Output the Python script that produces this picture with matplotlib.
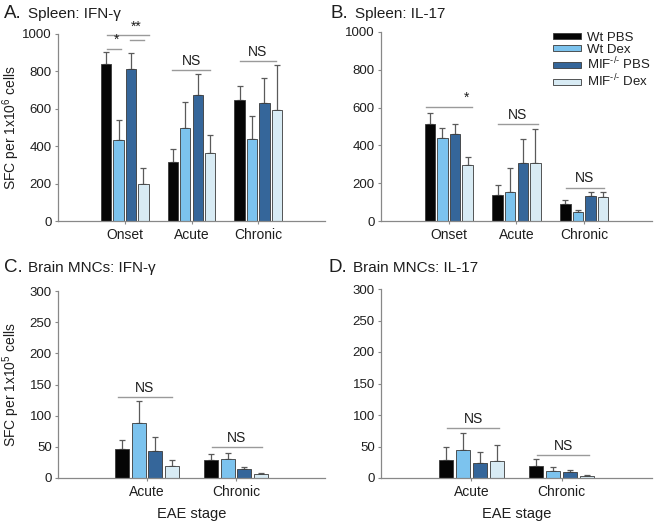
import numpy as np
import matplotlib
matplotlib.use('Agg')
import matplotlib.pyplot as plt

plt.rcParams['font.family'] = ['Liberation Sans', 'DejaVu Sans']
plt.rcParams['mathtext.fontset'] = 'custom'
plt.rcParams['mathtext.rm'] = 'Liberation Sans'
plt.rcParams['mathtext.it'] = 'Liberation Sans:italic'

# groups and stages
groups = ['Wt PBS', 'Wt Dex', r'MIF$^{\text{-/-}}$ PBS', r'MIF$^{\text{-/-}}$ Dex']
colors = ['#050505', '#7cc3ee', '#35669a', '#d8ebf4']
spleen_stages = ['Onset', 'Acute', 'Chronic']
brain_stages = ['Acute', 'Chronic']

# spleen IFN-g (rows = groups, cols = stages)
spleen_ifn = [[838, 316, 645], [431, 500, 438], [811, 672, 630], [200, 366, 594]]
spleen_ifn_err = [[64, 68, 78], [108, 137, 124], [86, 112, 133], [81, 93, 240]]

# spleen IL-17
spleen_il17 = [[512, 140, 89], [439, 154, 46], [460, 305, 133], [296, 305, 129]]
spleen_il17_err = [[58, 49, 21], [55, 127, 11], [52, 127, 18], [44, 180, 25]]

# brain MNCs IFN-g
brain_ifn = [[47, 29], [89, 30], [43, 15], [19, 6]]
brain_ifn_err = [[13.5, 9], [35, 10], [22.5, 3], [9.5, 2]]

# brain MNCs IL-17
brain_il17 = [[28, 19.6], [45, 11.7], [24, 9], [27.5, 3.8]]
brain_il17_err = [[22, 10], [27, 6.3], [17, 4], [24.5, 1.6]]

offsets = [-0.28, -0.093, 0.093, 0.28]
width = 0.155
line_gray = '#9a9a9a'
text_col = '#1e1e1e'


def draw_bars(ax, stages, means, errs, ymax, ystep):
    x = np.arange(len(stages))
    for i in range(len(groups)):
        m = np.array(means[i], dtype=float)
        e = np.array(errs[i], dtype=float)
        ax.bar(x + offsets[i], m, width, color=colors[i], edgecolor='#3a3a3a',
               linewidth=0.6, label=groups[i], zorder=2)
        ax.errorbar(x + offsets[i], m, yerr=[np.zeros_like(e), e], fmt='none',
                    ecolor='#5a5a5a', elinewidth=0.9, capsize=2, capthick=0.9, zorder=1)
    ax.set_xlim(-1, len(stages))
    ax.set_ylim(0, ymax)
    ax.set_yticks(np.arange(0, ymax + 1, ystep))
    ax.set_xticks(x)
    ax.set_xticklabels(stages, fontsize=10)
    ax.tick_params(axis='y', labelsize=9.5, length=2.5, width=0.8, color='#888888',
                   pad=2, labelcolor=text_col)
    ax.tick_params(axis='x', length=2.5, width=0.8, color='#888888', pad=2.5,
                   labelcolor=text_col)
    for s in ['top', 'right']:
        ax.spines[s].set_visible(False)
    for s in ['left', 'bottom']:
        ax.spines[s].set_color('#888888')
        ax.spines[s].set_linewidth(0.9)


def sig(ax, x0, x1, y, text, tx=None):
    ax.plot([x0, x1], [y, y], color=line_gray, lw=1, clip_on=False)
    if tx is None:
        tx = (x0 + x1) / 2
    ax.annotate(text, (tx, y), xytext=(0, 1.5), textcoords='offset points',
                ha='center', va='bottom', fontsize=10, color=text_col,
                annotation_clip=False)


fig = plt.figure(figsize=(6.54, 5.25), dpi=100)
W, H = 654, 525


def add_axes(l, r, t, b):
    return fig.add_axes([l / W, 1 - b / H, (r - l) / W, (b - t) / H])


axA = add_axes(58, 325, 34, 221)
axB = add_axes(381, 652, 32, 221)
axC = add_axes(58, 325, 291, 478)
axD = add_axes(381, 652, 289, 478)

draw_bars(axA, spleen_stages, spleen_ifn, spleen_ifn_err, 1000, 200)
draw_bars(axB, spleen_stages, spleen_il17, spleen_il17_err, 1000, 200)
draw_bars(axC, brain_stages, brain_ifn, brain_ifn_err, 300, 50)
draw_bars(axD, brain_stages, brain_il17, brain_il17_err, 300, 50)

# significance marks
axA.plot([-0.27, 0.37], [995, 995], color=line_gray, lw=1, clip_on=False)
sig(axA, -0.27, -0.05, 918, '*', tx=-0.13)
sig(axA, 0.075, 0.29, 968, '')
axA.annotate('**', (0.17, 995), xytext=(0, 1), textcoords='offset points',
             ha='center', va='bottom', fontsize=10, color=text_col, annotation_clip=False)
sig(axA, 0.71, 1.28, 807, 'NS')
sig(axA, 1.72, 2.27, 857, 'NS')

sig(axB, -0.33, 0.34, 605, '*', tx=0.26)
sig(axB, 0.73, 1.31, 512, 'NS')
sig(axB, 1.73, 2.29, 177, 'NS')

sig(axC, -0.33, 0.28, 130, 'NS')
sig(axC, 0.73, 1.29, 50, 'NS')

sig(axD, -0.27, 0.31, 80, 'NS')
sig(axD, 0.73, 1.3, 37, 'NS')

# legend
leg = axB.legend(loc='upper left', bbox_to_anchor=(0.615, 1.03), frameon=False,
                 fontsize=9.5, handlelength=2.1, handleheight=0.35,
                 labelspacing=0.02, handletextpad=0.45, borderaxespad=0)
for t in leg.get_texts():
    t.set_color(text_col)

# labels and titles
fig.text(11 / W, 1 - 128 / H, r'SFC per 1x10$^{6}$ cells', rotation=90,
         ha='center', va='center', fontsize=10, color=text_col)
fig.text(11 / W, 1 - 385 / H, r'SFC per 1x10$^{5}$ cells', rotation=90,
         ha='center', va='center', fontsize=10, color=text_col)
axC.set_xlabel('EAE stage', fontsize=10.5, labelpad=6, color=text_col)
axD.set_xlabel('EAE stage', fontsize=10.5, labelpad=6, color=text_col)

panels = [('A.', 'Spleen: IFN-\u03b3', 4, 14), ('B.', 'Spleen: IL-17', 331, 14),
          ('C.', 'Brain MNCs: IFN-\u03b3', 4, 268), ('D.', 'Brain MNCs: IL-17', 329, 268)]
for letter, title, px, py in panels:
    fig.text(px / W, 1 - py / H, letter, fontsize=13.5, va='center', ha='left', color=text_col)
    fig.text((px + 24) / W, 1 - py / H, title, fontsize=11, va='center', ha='left', color=text_col)

fig.savefig('out.png', dpi=100)
